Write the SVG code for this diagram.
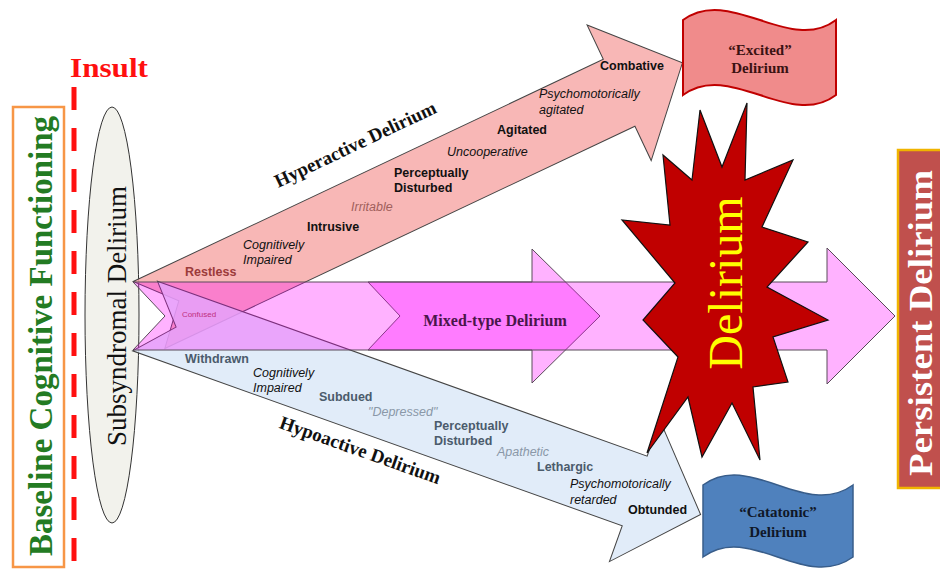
<svg xmlns="http://www.w3.org/2000/svg" width="940" height="576" viewBox="0 0 940 576">
<style>
.ser{font-family:"Liberation Serif","Times New Roman",serif}
.san{font-family:"Liberation Sans",Arial,sans-serif;font-size:12.5px}
.b{font-weight:bold}
.i{font-style:italic}
.hyl{fill:#111}
.hol{fill:#4b5b6c}
.pale{fill:#8a98a8}
.arr{stroke:#444;stroke-width:1;stroke-linejoin:miter}
.pink{fill:#ff00ff;fill-opacity:0.3;stroke:#5a4a5a;stroke-width:1}
</style>
<defs>
<polygon id="tilt" points="0,-37 520,-37 520,-75 590,0 520,75 520,37 0,37 33,0"/>
</defs>
<rect width="940" height="576" fill="#fff"/>

<g id="baseline">
<rect x="13" y="107" width="51" height="460" fill="#fff" stroke="#f79646" stroke-width="2.5"/>
<text class="ser b" transform="translate(52,336) rotate(-90)" text-anchor="middle" font-size="33" fill="#237b23">Baseline Cognitive Functioning</text>
</g>

<g id="insult">
<line x1="74" y1="87" x2="74" y2="576" stroke="#ff1010" stroke-width="5" stroke-dasharray="23,18"/>
<text class="ser b" x="70" y="77" font-size="28" fill="#ff1010" textLength="78" lengthAdjust="spacingAndGlyphs">Insult</text>
</g>

<g id="subsyndromal">
<ellipse cx="112" cy="315" rx="27" ry="208" fill="#f2f2ec" stroke="#333" stroke-width="1"/>
<text class="ser" transform="translate(126,316) rotate(-90)" text-anchor="middle" font-size="27" fill="#111">Subsyndromal Delirium</text>
</g>

<g id="connectors">
<g id="hyperactive-arrow" transform="translate(149,315) rotate(-25.3)">
<use href="#tilt" fill="#f7aaa9" fill-opacity="0.85" class="arr"/>
</g>
<g id="hypoactive-arrow" transform="translate(145,316) rotate(19.66)">
<use href="#tilt" fill="#dce9f8" fill-opacity="0.85" class="arr"/>
</g>
<polygon id="mixed-arrow" class="pink" points="368,282 532,282 532,249 600,316 532,383 532,350 368,350 400,316"/>
<polygon id="persistent-arrow" class="pink" points="133,282 827,282 827,248 895,316 827,384 827,350 133,350 165,316"/>
</g>

<g id="hyper-labels" class="san">
<text class="b" x="185" y="276" fill="#9c3b3b">Restless</text>
<text class="i hyl" x="243" y="249">Cognitively</text>
<text class="i hyl" x="243" y="264">Impaired</text>
<text class="b hyl" x="307" y="231">Intrusive</text>
<text class="i" x="351" y="211" fill="#a0605c">Irritable</text>
<text class="b hyl" x="394" y="177">Perceptually</text>
<text class="b hyl" x="394" y="192">Disturbed</text>
<text class="i hyl" x="447" y="156">Uncooperative</text>
<text class="b hyl" x="497" y="134">Agitated</text>
<text class="i hyl" x="539" y="98">Psychomotorically</text>
<text class="i hyl" x="539" y="114">agitated</text>
<text class="b hyl" x="600" y="70">Combative</text>
<text class="ser b" transform="translate(358,150) rotate(-25.4)" text-anchor="middle" font-size="19" fill="#111">Hyperactive Delirium</text>
</g>

<g id="hypo-labels" class="san">
<text class="b hol" x="185" y="363">Withdrawn</text>
<text class="i hyl" x="253" y="377">Cognitively</text>
<text class="i hyl" x="253" y="392">Impaired</text>
<text class="b hol" x="319" y="401">Subdued</text>
<text class="i pale" x="368" y="416">"Depressed"</text>
<text class="b hol" x="434" y="430">Perceptually</text>
<text class="b hol" x="434" y="445">Disturbed</text>
<text class="i pale" x="497" y="456">Apathetic</text>
<text class="b hol" x="537" y="471">Lethargic</text>
<text class="i hyl" x="570" y="488">Psychomotorically</text>
<text class="i hyl" x="570" y="504">retarded</text>
<text class="b hyl" x="628" y="514">Obtunded</text>
<text class="ser b" transform="translate(358,456) rotate(19.5)" text-anchor="middle" font-size="19" fill="#111">Hypoactive Delirium</text>
</g>

<g id="mixed-labels">
<text class="san" x="199" y="317" fill="#c03080" text-anchor="middle" style="font-size:8px">Confused</text>
<text class="ser b" x="495" y="326" text-anchor="middle" font-size="16" fill="#4a164a">Mixed-type Delirium</text>
</g>

<g id="delirium-star">
<polygon points="747,103 745,180 793,160 762,227 808,242 767,287 828,320 773,337 788,382 753,387 760,460 732,403 702,457 688,397 647,453 678,357 643,320 675,283 622,220 670,225 663,155 692,180 700,110 722,167" fill="#c00000" stroke="#111" stroke-width="1.2" stroke-linejoin="miter"/>
<text class="ser" transform="translate(742,283) rotate(-90)" text-anchor="middle" font-size="48" fill="#ffff00">Delirium</text>
</g>

<g id="excited-delirium">
<path d="M683,20 C730,-15 790,55 836,20 L836,95 C790,130 730,60 683,95 Z" fill="#f08b8b" stroke="#c00000" stroke-width="2"/>
<text class="ser b" x="760" y="55" text-anchor="middle" font-size="15" fill="#3a1212">“Excited”</text>
<text class="ser b" x="760" y="73" text-anchor="middle" font-size="15" fill="#3a1212">Delirium</text>
</g>

<g id="catatonic-delirium">
<path d="M703,485 C750,450 805,520 853,485 L853,557 C805,592 750,522 703,557 Z" fill="#4f81bd" stroke="#385d8a" stroke-width="1.5"/>
<text class="ser b" x="778" y="517" text-anchor="middle" font-size="15" fill="#101828">“Catatonic”</text>
<text class="ser b" x="778" y="537" text-anchor="middle" font-size="15" fill="#101828">Delirium</text>
</g>

<g id="persistent-delirium">
<rect x="898" y="150" width="50" height="338" fill="#c0504d" stroke="#f0b400" stroke-width="2.5"/>
<text class="ser b" transform="translate(932,323) rotate(-90)" text-anchor="middle" font-size="33" fill="#fff" textLength="306" lengthAdjust="spacingAndGlyphs">Persistent Delirium</text>
</g>
</svg>
